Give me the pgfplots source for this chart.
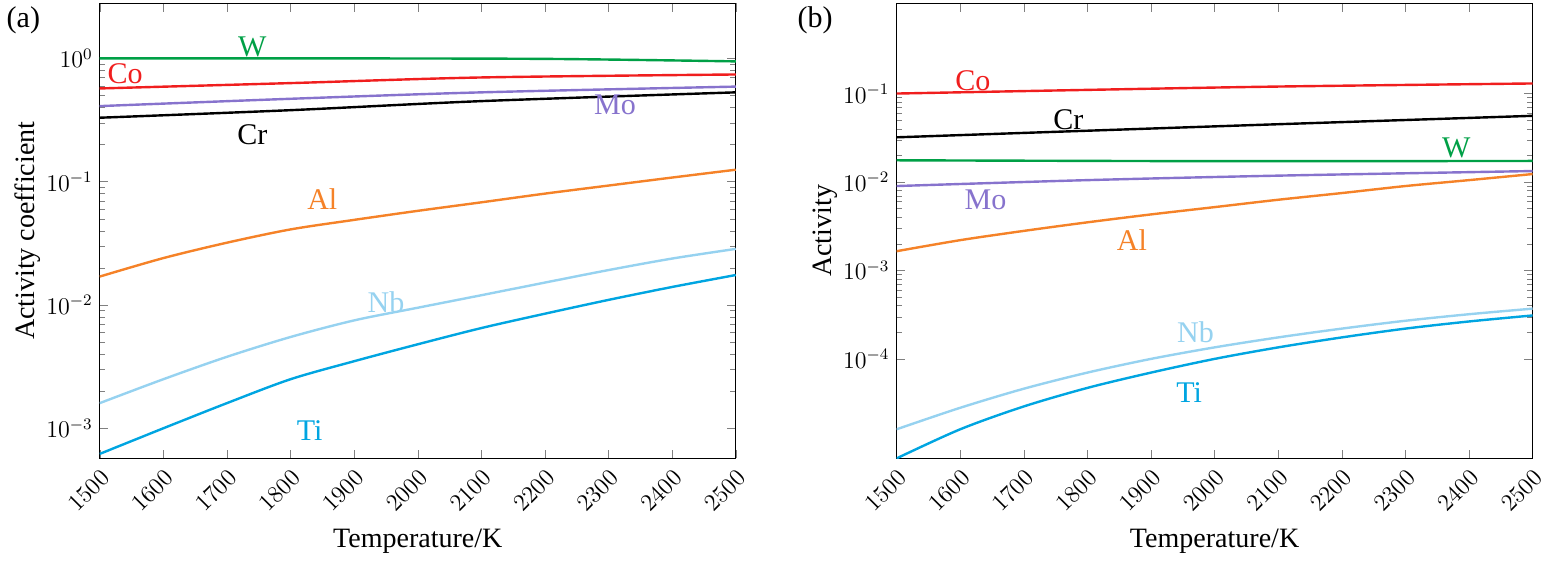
\documentclass[border=0pt]{standalone}
\usepackage{pgfplots}
\pgfplotsset{compat=1.18}
\usepackage{fontspec}
\setmainfont{Liberation Serif}
\definecolor{cW}{RGB}{0,160,70}
\definecolor{cCo}{RGB}{240,30,30}
\definecolor{cMo}{RGB}{135,115,205}
\definecolor{cAl}{RGB}{245,130,40}
\definecolor{cNb}{RGB}{150,210,240}
\definecolor{cTi}{RGB}{0,165,225}
\tikzset{lab/.style={font=\fontsize{15}{15}\selectfont}}
\begin{document}
\begin{tikzpicture}
\begin{axis}[scale only axis,width=316.5bp,height=226.5bp,ymode=log,
 xmin=1500,xmax=2500,xtick={1500,1600,...,2500},
 x tick label style={rotate=45,anchor=north east,font=\fontsize{12}{12}\selectfont,/pgf/number format/1000 sep={}},
 y tick label style={font=\fontsize{12}{12}\selectfont},
 xlabel={Temperature/K},label style={font=\fontsize{14}{14}\selectfont},
 tick align=inside,
 ymin=5.7e-4,ymax=2.8,ylabel={Activity coefficient},ytick={1e-3,1e-2,1e-1,1},
 ylabel style={yshift=-4pt}]
\addplot[cW,line width=1.2pt,smooth] coordinates {(1500,1.0)(1800,1.0)(2200,0.99)(2500,0.945)};
\addplot[cCo,line width=1.2pt,smooth] coordinates {(1500,0.57)(1800,0.63)(2100,0.70)(2500,0.74)};
\addplot[cMo,line width=1.2pt,smooth] coordinates {(1500,0.41)(1800,0.47)(2100,0.53)(2500,0.59)};
\addplot[black,line width=1.2pt,smooth] coordinates {(1500,0.33)(1800,0.38)(2100,0.45)(2500,0.53)};
\addplot[cAl,line width=1.2pt,smooth] coordinates {(1500,0.017)(1600,0.024)(1700,0.032)(1800,0.041)(1900,0.049)(2000,0.058)(2100,0.068)(2200,0.080)(2300,0.093)(2400,0.108)(2500,0.125)};
\addplot[cNb,line width=1.2pt,smooth] coordinates {(1500,0.0016)(1600,0.0025)(1700,0.0038)(1800,0.0055)(1900,0.0075)(2000,0.0095)(2100,0.0120)(2200,0.0152)(2300,0.0192)(2400,0.0238)(2500,0.0285)};
\addplot[cTi,line width=1.2pt,smooth] coordinates {(1500,0.00062)(1600,0.0010)(1700,0.0016)(1800,0.0025)(1900,0.0035)(2000,0.0048)(2100,0.0065)(2200,0.0085)(2300,0.0110)(2400,0.0140)(2500,0.0175)};
\node[cW,lab] at (axis cs:1740,1.25) {W};
\node[cCo,lab] at (axis cs:1540,0.75) {Co};
\node[cMo,lab] at (axis cs:2310,0.42) {Mo};
\node[black,lab] at (axis cs:1740,0.24) {Cr};
\node[cAl,lab] at (axis cs:1850,0.072) {Al};
\node[cNb,lab] at (axis cs:1950,0.0105) {Nb};
\node[cTi,lab] at (axis cs:1830,0.00095) {Ti};
\end{axis}
\node[lab] at (-38bp,218bp) {(a)};
\begin{axis}[xshift=396.5bp,scale only axis,width=316.5bp,height=226.5bp,ymode=log,
 xmin=1500,xmax=2500,xtick={1500,1600,...,2500},
 x tick label style={rotate=45,anchor=north east,font=\fontsize{12}{12}\selectfont,/pgf/number format/1000 sep={}},
 y tick label style={font=\fontsize{12}{12}\selectfont},
 xlabel={Temperature/K},label style={font=\fontsize{14}{14}\selectfont},
 tick align=inside,
 ymin=7.5e-6,ymax=1.05,ylabel={Activity},ytick={1e-4,1e-3,1e-2,1e-1},
 ylabel style={yshift=-4pt}]
\addplot[cCo,line width=1.2pt,smooth] coordinates {(1500,0.1)(1800,0.11)(2100,0.12)(2500,0.13)};
\addplot[black,line width=1.2pt,smooth] coordinates {(1500,0.032)(1800,0.038)(2100,0.045)(2500,0.056)};
\addplot[cW,line width=1.2pt,smooth] coordinates {(1500,0.0176)(2000,0.0172)(2500,0.0173)};
\addplot[cMo,line width=1.2pt,smooth] coordinates {(1500,0.009)(1800,0.0105)(2100,0.0118)(2500,0.0133)};
\addplot[cAl,line width=1.2pt,smooth] coordinates {(1500,0.00165)(1600,0.0022)(1700,0.0028)(1800,0.0035)(1900,0.0043)(2000,0.0052)(2100,0.0063)(2200,0.0075)(2300,0.0090)(2400,0.0105)(2500,0.0123)};
\addplot[cNb,line width=1.2pt,smooth] coordinates {(1500,1.6e-5)(1600,2.8e-5)(1700,4.6e-5)(1800,7.0e-5)(1900,1.0e-4)(2000,1.35e-4)(2100,1.75e-4)(2200,2.2e-4)(2300,2.7e-4)(2400,3.2e-4)(2500,3.7e-4)};
\addplot[cTi,line width=1.2pt,smooth] coordinates {(1500,7.5e-6)(1600,1.6e-5)(1700,2.9e-5)(1800,4.7e-5)(1900,7.0e-5)(2000,1.0e-4)(2100,1.35e-4)(2200,1.75e-4)(2300,2.2e-4)(2400,2.65e-4)(2500,3.1e-4)};
\node[cCo,lab] at (axis cs:1620,0.14) {Co};
\node[black,lab] at (axis cs:1770,0.05) {Cr};
\node[cW,lab] at (axis cs:2380,0.024) {W};
\node[cMo,lab] at (axis cs:1640,0.0063) {Mo};
\node[cAl,lab] at (axis cs:1870,0.0022) {Al};
\node[cNb,lab] at (axis cs:1970,2.0e-4) {Nb};
\node[cTi,lab] at (axis cs:1960,4.2e-5) {Ti};
\end{axis}
\node[lab] at (356bp,218bp) {(b)};
\end{tikzpicture}
\end{document}
